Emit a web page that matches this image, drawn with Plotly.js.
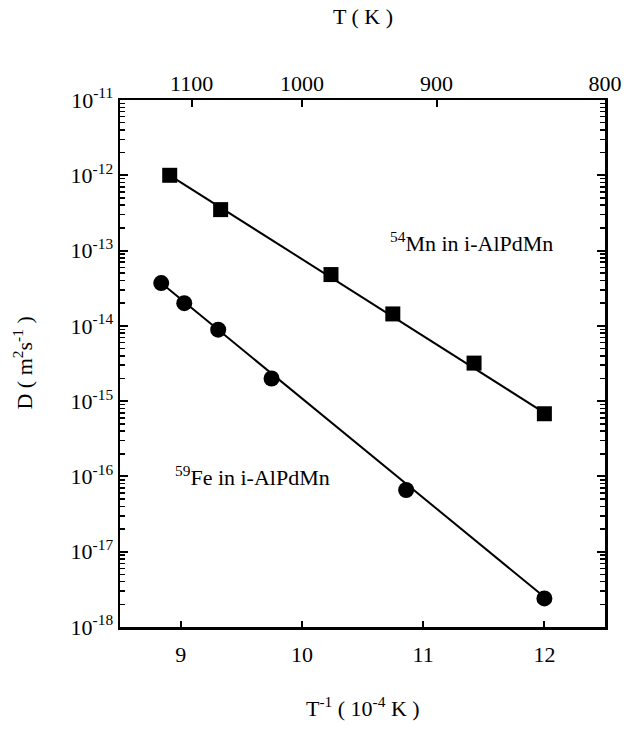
<!DOCTYPE html>
<html>
<head>
<meta charset="utf-8">
<script src="https://cdn.plot.ly/plotly-3.0.1.min.js"></script>
<style>html,body{margin:0;padding:0;background:#fff;}#chart{width:624px;height:732px;}</style>
</head>
<body>
<div id="chart"></div>
<script>
// Data: x = 1/T in 1e-4 K^-1, y = D in m^2/s
var mnX = [8.91, 9.33, 10.24, 10.75, 11.42, 12.00];
var mnD = [1.0e-12, 3.5e-13, 4.8e-14, 1.44e-14, 3.2e-15, 6.8e-16];
var feX = [8.84, 9.03, 9.31, 9.75, 10.86, 12.00];
var feD = [3.7e-14, 2.0e-14, 8.9e-15, 2.0e-15, 6.6e-17, 2.4e-18];
// Fitted Arrhenius lines (end points)
var mnFitX = [8.91, 12.00];
var mnFitD = [1.0e-12, 7.0e-16];
var feFitX = [8.84, 12.00];
var feFitD = [3.7e-14, 2.5e-18];
// Tick labels
var xTicks = [9, 10, 11, 12];
var tempTicks = [1100, 1000, 900, 800];
var yExps = [-11, -12, -13, -14, -15, -16, -17, -18];

var font = "Liberation Serif, Times New Roman, serif";
var fs = 22;
var topVals = tempTicks.map(function(t){ return 1e4 / t; });
var topText = tempTicks.map(String);
var yVals = yExps.map(function(e){ return Math.pow(10, e); });
var yText = yExps.map(function(e){ return "10<sup>" + e + "</sup>"; });
var minorVals = [];
for (var d = -18; d < -11; d++) { for (var m = 2; m <= 9; m++) { minorVals.push(m * Math.pow(10, d)); } }

var traces = [
  {x: mnFitX, y: mnFitD, mode: "lines", line: {color: "#000", width: 2}, hoverinfo: "skip"},
  {x: feFitX, y: feFitD, mode: "lines", line: {color: "#000", width: 2}, hoverinfo: "skip"},
  {x: mnX, y: mnD, mode: "markers", marker: {symbol: "square", size: 15, color: "#000"}},
  {x: feX, y: feD, mode: "markers", marker: {symbol: "circle", size: 16, color: "#000"}},
  {x: [10], y: [1e-11], xaxis: "x2", mode: "markers", marker: {opacity: 0}, hoverinfo: "skip"}
];

var layout = {
  width: 624, height: 732,
  margin: {l: 120, r: 19, t: 100, b: 105},
  paper_bgcolor: "#fff", plot_bgcolor: "#fff",
  showlegend: false,
  font: {family: font, color: "#000", size: fs},
  xaxis: {
    range: [8.5, 12.5], tickvals: xTicks, ticktext: xTicks.map(String),
    ticks: "inside", ticklen: 6, tickwidth: 2, tickcolor: "#000",
    ticklabelstandoff: 6,
    showline: true, linewidth: 2.5, linecolor: "#000", mirror: true,
    showgrid: false, zeroline: false,
    tickfont: {family: font, size: fs}
  },
  xaxis2: {
    overlaying: "x", side: "top", range: [8.5, 12.5],
    tickvals: topVals, ticktext: topText,
    ticks: "inside", ticklen: 7, tickwidth: 2, tickcolor: "#000",
    ticklabelstandoff: 4,
    showline: false, showgrid: false, zeroline: false,
    tickfont: {family: font, size: fs}
  },
  yaxis: {
    type: "log", range: [-18, -11],
    tickvals: yVals, ticktext: yText,
    ticks: "inside", ticklen: 8, tickwidth: 2, tickcolor: "#000",
    minor: {tickmode: "array", tickvals: minorVals, ticks: "inside", ticklen: 5, tickwidth: 1.5, tickcolor: "#000", showgrid: false},
    showline: true, linewidth: 2.5, linecolor: "#000", mirror: "ticks",
    showgrid: false, zeroline: false,
    tickfont: {family: font, size: fs}
  },
  annotations: [
    {xref: "x", yref: "y", x: 10.71, y: -12.89, xanchor: "left", yanchor: "middle", text: "<sup>54</sup>Mn in i-AlPdMn", showarrow: false, font: {family: font, size: fs}},
    {xref: "x", yref: "y", x: 8.94, y: -16.0, xanchor: "left", yanchor: "middle", text: "<sup>59</sup>Fe in i-AlPdMn", showarrow: false, font: {family: font, size: fs}},
    {xref: "paper", yref: "paper", x: 0.5, y: -0.152, xanchor: "center", yanchor: "middle", text: "T<sup>-1</sup> ( 10<sup>-4</sup> K )", showarrow: false, font: {family: font, size: fs}},
    {xref: "paper", yref: "paper", x: 0.5, y: 1.158, xanchor: "center", yanchor: "middle", text: "T ( K )", showarrow: false, font: {family: font, size: fs}},
    {xref: "paper", yref: "paper", x: -0.202, y: 0.5, xanchor: "center", yanchor: "middle", textangle: -90, text: "D ( m<sup>2</sup>s<sup>-1</sup> )", showarrow: false, font: {family: font, size: fs}}
  ]
};

Plotly.newPlot("chart", traces, layout, {staticPlot: true, displayModeBar: false});
</script>
</body>
</html>
